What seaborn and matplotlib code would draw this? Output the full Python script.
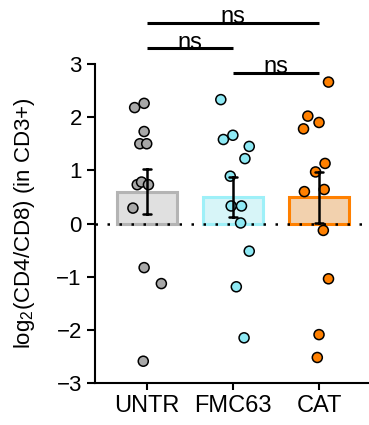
import numpy as np
import pandas as pd
import matplotlib
matplotlib.use('Agg')
import matplotlib.pyplot as plt
import seaborn as sns

# values (log2 CD4/CD8 ratio, one point per donor/mouse)
groups = ['UNTR', 'FMC63', 'CAT']
untr = [2.18, 2.26, 1.73, 1.50, 1.50, 0.73, 0.78, 0.73, 0.29, -0.83, -1.13, -2.59]
fmc63 = [2.33, 1.58, 1.66, 1.45, 1.22, 0.89, 0.33, 0.33, 0.01, -0.52, -1.19, -2.15]
cat = [2.66, 2.02, 1.90, 1.78, 1.13, 0.97, 0.60, 0.64, -0.13, -1.04, -2.09, -2.52]
# horizontal scatter of the points, as seen in the picture
untr_jit = [-0.14, -0.03, -0.03, -0.08, 0.00, -0.11, -0.06, 0.02, -0.16, -0.03, 0.17, -0.04]
fmc63_jit = [-0.14, -0.11, 0.00, 0.19, 0.14, -0.03, -0.02, 0.10, 0.09, 0.19, 0.04, 0.13]
cat_jit = [0.11, -0.13, 0.00, -0.18, 0.07, -0.04, -0.17, 0.06, 0.05, 0.11, 0.00, -0.02]
# pairwise comparisons (group a, group b, bracket height, label)
comparisons = [(0, 2, 3.78, 'ns'), (0, 1, 3.30, 'ns'), (1, 2, 2.84, 'ns')]

bar_face = ['#e0e0e0', '#d2fafd', '#fdd1a3']
bar_edge = ['#b4b4b4', '#9ef0f8', '#ff8000']
point_col = ['#a8a8a8', '#8ee9f4', '#ff8000']

sns.set_style('ticks')
plt.rcParams['font.family'] = ['Liberation Sans', 'DejaVu Sans']
plt.rcParams['mathtext.fontset'] = 'custom'
plt.rcParams['mathtext.rm'] = 'Liberation Sans'
plt.rcParams['mathtext.it'] = 'Liberation Sans:italic'
plt.rcParams['text.color'] = 'black'
plt.rcParams['axes.labelcolor'] = 'black'
plt.rcParams['xtick.color'] = 'black'
plt.rcParams['ytick.color'] = 'black'

rows = []
for i, (g, vals, jit) in enumerate(zip(groups, [untr, fmc63, cat], [untr_jit, fmc63_jit, cat_jit])):
    for v, j in zip(vals, jit):
        rows.append({'group': g, 'pos': i, 'x': i + j, 'value': v})
df = pd.DataFrame(rows)

fig = plt.figure(figsize=(3.69, 4.25), dpi=100)
ax = fig.add_axes([0.2575, 0.0988, 0.7425, 0.7506])

sns.barplot(data=df, x='pos', y='value', hue='group', palette=bar_face,
            native_scale=True, dodge=False, width=0.7, errorbar='se',
            capsize=0.09, err_kws={'color': 'black', 'linewidth': 1.8},
            linewidth=2.2, legend=False, ax=ax)
for p, ec in zip(ax.patches, bar_edge):
    p.set_edgecolor(ec)
    p.set_zorder(1)
for ln in ax.lines:
    ln.set_zorder(5)

sns.scatterplot(data=df, x='x', y='value', hue='group', palette=point_col,
                s=52, edgecolor='black', linewidth=1.1, legend=False,
                zorder=3, ax=ax)

ax.axhline(0, color='black', linestyle=(0, (1, 3.8)), linewidth=1.8, zorder=2)

# significance brackets above the plot
for a, b, h, lab in comparisons:
    ax.plot([a, b], [h, h], color='black', linewidth=2.2, clip_on=False,
            solid_capstyle='butt')
    ax.text((a + b) / 2, h - 0.01, lab, ha='center', va='baseline', fontsize=17,
            color='black', clip_on=False)

ax.set_xlim(-0.6, 2.58)
ax.set_ylim(-3, 3)
ax.set_yticks(range(-3, 4))
ax.set_xticks(range(3))
ax.set_xticklabels(groups)
ax.set_xlabel('')
ax.set_ylabel(r'log$_2$(CD4/CD8) (in CD3+)', fontsize=16)
ax.yaxis.set_label_coords(-0.212, 0.5)
ax.tick_params(axis='both', labelsize=16, width=1.5, length=6, color='black',
               labelcolor='black')
ax.tick_params(axis='x', labelsize=17, length=5)
for s in ['left', 'bottom']:
    ax.spines[s].set_linewidth(1.5)
    ax.spines[s].set_color('black')
sns.despine(ax=ax)

fig.savefig('out.png', dpi=100)
